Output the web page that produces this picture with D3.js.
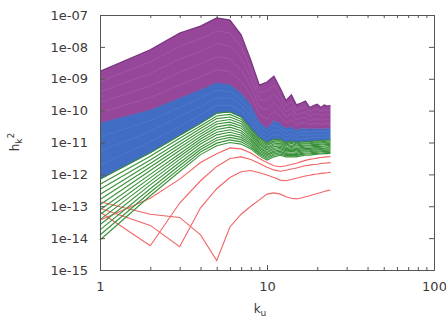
<!DOCTYPE html>
<html><head><meta charset="utf-8">
<script src="https://cdn.jsdelivr.net/npm/d3@7"></script>
<style>
body{margin:0;background:#fff}
svg{display:block}
text{font-family:"DejaVu Sans",sans-serif;fill:#3a3a3a}
</style>
</head><body>
<svg id="c" width="446" height="321"></svg>
<script>
// wavenumbers k_u
const kValues = [1,2,3,4,5,6,7,8,9,10,11,12,13,14,15,16,17,18,19,20,21,22,23,24];
const xTickValues = [1,10,100];
const xMinorTicks = [2,3,4,5,6,7,8,9,20,30,40,50,60,70,80,90];
const yTickValues = [1e-7,1e-8,1e-9,1e-10,1e-11,1e-12,1e-13,1e-14,1e-15];
const yTickLabels = ["1e-07","1e-08","1e-09","1e-10","1e-11","1e-12","1e-13","1e-14","1e-15"];

// series values as log10(h_k^2)
// red (early) spectra
const red0 = [-12.86,-13.25,-13.35,-13.90,-14.70,-13.65,-13.25,-13.00,-12.80,-12.62,-12.58,-12.62,-12.70,-12.75,-12.77,-12.74,-12.70,-12.67,-12.63,-12.60,-12.57,-12.54,-12.51,-12.49];
const red1 = [-13.06,-13.60,-14.27,-13.05,-12.45,-12.10,-11.92,-11.88,-11.95,-12.02,-12.10,-12.18,-12.20,-12.16,-12.12,-12.08,-12.05,-12.03,-12.00,-11.99,-11.97,-11.96,-11.95,-11.93];
const red2 = [-13.18,-14.24,-12.90,-12.20,-11.75,-11.50,-11.45,-11.53,-11.66,-11.78,-11.86,-11.90,-11.87,-11.83,-11.80,-11.76,-11.73,-11.71,-11.69,-11.68,-11.66,-11.65,-11.64,-11.63];
const red3 = [-13.44,-12.75,-12.15,-11.63,-11.35,-11.17,-11.20,-11.33,-11.50,-11.63,-11.73,-11.76,-11.73,-11.69,-11.65,-11.60,-11.56,-11.53,-11.51,-11.49,-11.47,-11.46,-11.45,-11.44];

// green spectra
const greenBottom = [-14.06,-12.67,-11.91,-11.38,-11.10,-11.00,-11.05,-11.20,-11.42,-11.55,-11.45,-11.40,-11.45,-11.45,-11.45,-11.42,-11.40,-11.40,-11.38,-11.37,-11.36,-11.35,-11.35,-11.34];
const green11 = [-13.90,-12.56,-11.82,-11.30,-11.02,-10.92,-10.98,-11.15,-11.37,-11.50,-11.40,-11.36,-11.41,-11.41,-11.41,-11.38,-11.36,-11.36,-11.34,-11.34,-11.33,-11.32,-11.31,-11.31];
const green10 = [-13.74,-12.45,-11.72,-11.22,-10.93,-10.84,-10.91,-11.09,-11.33,-11.46,-11.36,-11.32,-11.38,-11.37,-11.38,-11.35,-11.33,-11.33,-11.31,-11.30,-11.29,-11.28,-11.28,-11.27];
const green9 = [-13.58,-12.33,-11.63,-11.14,-10.85,-10.76,-10.84,-11.04,-11.28,-11.41,-11.31,-11.28,-11.34,-11.33,-11.34,-11.31,-11.29,-11.29,-11.27,-11.27,-11.26,-11.25,-11.24,-11.24];
const green8 = [-13.42,-12.22,-11.53,-11.05,-10.76,-10.68,-10.77,-10.98,-11.23,-11.37,-11.27,-11.23,-11.30,-11.28,-11.30,-11.27,-11.26,-11.26,-11.24,-11.23,-11.22,-11.21,-11.21,-11.20];
const green7 = [-13.26,-12.11,-11.44,-10.97,-10.68,-10.60,-10.70,-10.93,-11.18,-11.32,-11.22,-11.19,-11.26,-11.24,-11.26,-11.24,-11.22,-11.22,-11.20,-11.20,-11.19,-11.18,-11.17,-11.17];
const green6 = [-13.11,-12.00,-11.35,-10.89,-10.59,-10.52,-10.63,-10.88,-11.14,-11.28,-11.18,-11.15,-11.23,-11.20,-11.23,-11.20,-11.19,-11.19,-11.17,-11.16,-11.15,-11.14,-11.14,-11.13];
const green5 = [-12.95,-11.88,-11.25,-10.81,-10.51,-10.44,-10.55,-10.82,-11.09,-11.23,-11.13,-11.11,-11.19,-11.16,-11.19,-11.16,-11.15,-11.15,-11.13,-11.13,-11.12,-11.11,-11.10,-11.10];
const green4 = [-12.79,-11.77,-11.16,-10.73,-10.42,-10.36,-10.48,-10.77,-11.04,-11.18,-11.08,-11.07,-11.15,-11.12,-11.15,-11.13,-11.11,-11.11,-11.09,-11.09,-11.08,-11.07,-11.06,-11.06];
const green3 = [-12.63,-11.66,-11.06,-10.65,-10.34,-10.28,-10.41,-10.71,-10.99,-11.14,-11.04,-11.03,-11.11,-11.08,-11.11,-11.09,-11.08,-11.08,-11.06,-11.06,-11.05,-11.04,-11.03,-11.03];
const green2 = [-12.47,-11.55,-10.97,-10.56,-10.25,-10.20,-10.34,-10.66,-10.95,-11.09,-10.99,-10.98,-11.08,-11.03,-11.08,-11.05,-11.04,-11.04,-11.02,-11.02,-11.01,-11.00,-10.99,-10.99];
const green1 = [-12.31,-11.43,-10.87,-10.48,-10.17,-10.12,-10.27,-10.60,-10.90,-11.05,-10.95,-10.94,-11.04,-10.99,-11.04,-11.02,-11.01,-11.01,-10.99,-10.99,-10.98,-10.97,-10.96,-10.96];
const greenTop = [-12.15,-11.32,-10.78,-10.40,-10.08,-10.04,-10.20,-10.55,-10.85,-11.00,-10.90,-10.90,-11.00,-10.95,-11.00,-10.98,-10.97,-10.97,-10.95,-10.95,-10.94,-10.93,-10.92,-10.92];

// blue spectra
const blue3 = [-11.71,-10.98,-10.49,-10.14,-9.84,-9.83,-10.01,-10.36,-10.73,-10.89,-10.75,-10.78,-10.89,-10.84,-10.90,-10.87,-10.87,-10.87,-10.85,-10.85,-10.85,-10.84,-10.83,-10.83];
const blue2 = [-11.27,-10.65,-10.19,-9.87,-9.60,-9.61,-9.83,-10.18,-10.60,-10.78,-10.60,-10.65,-10.78,-10.73,-10.80,-10.77,-10.76,-10.78,-10.75,-10.75,-10.76,-10.74,-10.74,-10.74];
const blue1 = [-10.82,-10.31,-9.90,-9.61,-9.36,-9.40,-9.64,-9.99,-10.48,-10.66,-10.45,-10.53,-10.66,-10.61,-10.70,-10.66,-10.66,-10.68,-10.65,-10.65,-10.66,-10.65,-10.65,-10.64];
const purpleBottom = [-10.38,-9.97,-9.60,-9.34,-9.12,-9.18,-9.45,-9.80,-10.35,-10.55,-10.30,-10.40,-10.55,-10.50,-10.60,-10.55,-10.55,-10.58,-10.55,-10.55,-10.57,-10.55,-10.56,-10.55];

// purple (late) spectra
const purple4 = [-10.06,-9.59,-9.19,-8.94,-8.71,-8.78,-9.08,-9.52,-10.12,-10.26,-10.02,-10.18,-10.38,-10.30,-10.44,-10.39,-10.38,-10.44,-10.41,-10.40,-10.44,-10.40,-10.42,-10.41];
const purple3 = [-9.74,-9.22,-8.79,-8.54,-8.31,-8.37,-8.72,-9.25,-9.89,-9.97,-9.75,-9.96,-10.20,-10.10,-10.29,-10.23,-10.21,-10.31,-10.27,-10.25,-10.30,-10.26,-10.28,-10.27];
const purple2 = [-9.41,-8.84,-8.38,-8.15,-7.90,-7.97,-8.35,-8.97,-9.66,-9.68,-9.47,-9.74,-10.03,-9.90,-10.13,-10.08,-10.04,-10.17,-10.12,-10.10,-10.17,-10.11,-10.14,-10.12];
const purple1 = [-9.09,-8.47,-7.98,-7.75,-7.50,-7.56,-7.99,-8.70,-9.43,-9.39,-9.20,-9.52,-9.85,-9.70,-9.98,-9.92,-9.87,-10.04,-9.98,-9.95,-10.03,-9.97,-10.00,-9.98];
const purpleTop = [-8.77,-8.09,-7.57,-7.35,-7.09,-7.16,-7.62,-8.42,-9.20,-9.10,-8.92,-9.30,-9.68,-9.50,-9.82,-9.76,-9.70,-9.90,-9.84,-9.80,-9.90,-9.82,-9.86,-9.84];

const redLines = [red0, red1, red2, red3];
const greenLines = [greenBottom, green11, green10, green9, green8, green7, green6, green5, green4, green3, green2, green1, greenTop];
const blueLines = [blue3, blue2, blue1];
const purpleLines = [purple4, purple3, purple2, purple1];

const svg = d3.select('#c');
const L = 100, R = 434, T = 15, B = 270;
const x = d3.scaleLog().domain([1,100]).range([L,R]);
const y = d3.scaleLog().domain([1e-15,1e-7]).range([B,T]);

const line = d3.line().x((d,i)=>x(kValues[i])).y(d=>y(Math.pow(10,d)));
const band = (upper, lower) => d3.area()
  .x((d,i)=>x(kValues[i]))
  .y0((d,i)=>y(Math.pow(10,lower[i])))
  .y1((d,i)=>y(Math.pow(10,upper[i])))(kValues);

const plot = svg.append('g');

// red
plot.selectAll('path.red').data(redLines).join('path').attr('class','red')
  .attr('d',line).attr('fill','none').attr('stroke','#f26464').attr('stroke-width',1.1);

// green
plot.selectAll('path.green').data(greenLines).join('path').attr('class','green')
  .attr('d',line).attr('fill','none').attr('stroke','#3b923b').attr('stroke-width',1.15);

// blue band
plot.append('path').attr('d',band(purpleBottom, greenTop)).attr('fill','#416dc4');
plot.selectAll('path.blue').data(blueLines).join('path').attr('class','blue')
  .attr('d',line).attr('fill','none').attr('stroke','#5a86d4').attr('stroke-width',0.8).attr('opacity',0.6);
plot.append('path').attr('d',line(greenTop)).attr('fill','none').attr('stroke','#3a8a3f').attr('stroke-width',1);

// purple band
plot.append('path').attr('d',band(purpleTop, purpleBottom)).attr('fill','#96479a');
plot.selectAll('path.purple').data(purpleLines).join('path').attr('class','purple')
  .attr('d',line).attr('fill','none').attr('stroke','#b066b0').attr('stroke-width',0.9).attr('opacity',0.5);
plot.append('path').attr('d',line(purpleTop)).attr('fill','none').attr('stroke','#7a3380').attr('stroke-width',1.2);
plot.append('path').attr('d',line(purpleBottom)).attr('fill','none').attr('stroke','#6f4fa2').attr('stroke-width',0.8);

// axes (ticks inward)
function style(g){
  g.selectAll('.domain').attr('stroke','#555');
  g.selectAll('.tick line').attr('stroke','#555');
  g.selectAll('text').attr('font-size',13).attr('font-family','"DejaVu Sans",sans-serif').attr('fill','#3a3a3a');
}
const gB = svg.append('g').attr('transform',`translate(0,${B})`)
  .call(d3.axisBottom(x).tickValues(xTickValues).tickSize(-5).tickSizeOuter(0).tickPadding(12).tickFormat(d3.format('d')));
style(gB);
svg.append('g').attr('transform',`translate(0,${B})`)
  .call(d3.axisBottom(x).tickValues(xMinorTicks).tickSize(-3).tickSizeOuter(0).tickFormat(''))
  .call(g=>{g.select('.domain').remove(); g.selectAll('line').attr('stroke','#555');});
const gT = svg.append('g').attr('transform',`translate(0,${T})`)
  .call(d3.axisTop(x).tickValues(xTickValues).tickSize(-5).tickSizeOuter(0).tickFormat(''));
style(gT);
svg.append('g').attr('transform',`translate(0,${T})`)
  .call(d3.axisTop(x).tickValues(xMinorTicks).tickSize(-3).tickSizeOuter(0).tickFormat(''))
  .call(g=>{g.select('.domain').remove(); g.selectAll('line').attr('stroke','#555');});
const gL = svg.append('g').attr('transform',`translate(${L},0)`)
  .call(d3.axisLeft(y).tickValues(yTickValues).tickSize(-5).tickSizeOuter(0).tickPadding(12)
    .tickFormat((d,i)=>yTickLabels[i]));
style(gL);
const gR = svg.append('g').attr('transform',`translate(${R},0)`)
  .call(d3.axisRight(y).tickValues(yTickValues).tickSize(-5).tickSizeOuter(0).tickFormat(''));
style(gR);

// axis titles
const xt = svg.append('text').attr('x',260).attr('y',313).attr('text-anchor','middle').attr('font-size',12);
xt.append('tspan').text('k');
xt.append('tspan').attr('font-size',9).attr('dy',3).text('u');

const yt = svg.append('text').attr('transform','translate(19,142) rotate(-90)').attr('text-anchor','middle').attr('font-size',12);
yt.append('tspan').text('h');
yt.append('tspan').attr('font-size',9).attr('dy',3).text('k');
yt.append('tspan').attr('font-size',9).attr('dy',-8).text('2');
</script>
</body></html>
